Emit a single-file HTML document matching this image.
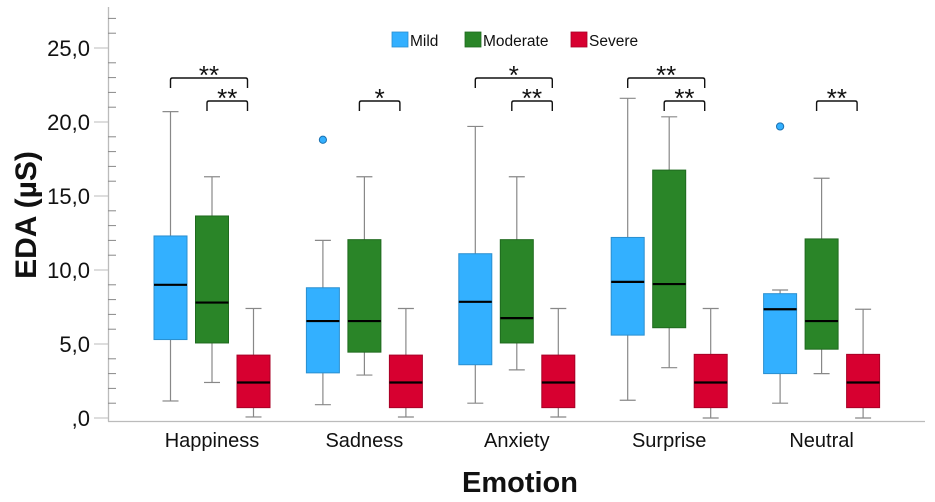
<!DOCTYPE html>
<html><head><meta charset="utf-8">
<style>
html,body{margin:0;padding:0;background:#fff;}
svg{display:block;font-family:"Liberation Sans",Arial,sans-serif;}
</style></head>
<body>
<svg id="chart" width="935" height="502" viewBox="0 0 935 502" xmlns="http://www.w3.org/2000/svg">
<g id="axes"></g>
<g id="boxes"></g>
<g id="sig"></g>
<g>
  <rect x="392" y="32" width="16" height="15" fill="#33b0ff" stroke="#2a8fd0" stroke-width="0.8"/>
  <text x="410" y="46" font-size="15.5" fill="#111">Mild</text>
  <rect x="465" y="32" width="16" height="15" fill="#2a8528" stroke="#1f6a1e" stroke-width="0.8"/>
  <text x="483" y="46" font-size="15.5" fill="#111">Moderate</text>
  <rect x="571" y="32" width="16" height="15" fill="#d70030" stroke="#a80026" stroke-width="0.8"/>
  <text x="589" y="46" font-size="15.5" fill="#111">Severe</text>
</g>
<text transform="translate(36,215) rotate(-90)" text-anchor="middle" font-size="30" font-weight="bold" fill="#111">EDA (µS)</text>
<text x="520" y="492" text-anchor="middle" font-size="29" font-weight="bold" fill="#111">Emotion</text>
</svg>
<script>
const categories = ["Happiness","Sadness","Anxiety","Surprise","Neutral"];
const seriesNames = ["Mild","Moderate","Severe"];
// each: [whiskerLow, q1, median, q3, whiskerHigh]
const mildStats = [[1.15,5.3,9.0,12.3,20.7],[0.9,3.05,6.55,8.8,12.0],[1.0,3.6,7.85,11.1,19.7],[1.2,5.6,9.2,12.2,21.6],[1.0,3.0,7.35,8.4,8.65]];
const moderateStats = [[2.4,5.07,7.8,13.65,16.3],[2.9,4.45,6.55,12.05,16.3],[3.25,5.07,6.75,12.05,16.3],[3.4,6.1,9.05,16.75,20.35],[3.0,4.65,6.55,12.1,16.2]];
const severeStats = [[0.07,0.7,2.4,4.25,7.4],[0.07,0.7,2.4,4.25,7.4],[0.07,0.7,2.4,4.25,7.4],[0.0,0.7,2.4,4.3,7.4],[0.0,0.7,2.4,4.3,7.35]];
const mildOutliers = [null,18.8,null,null,19.7];
const yTicks = [0,5,10,15,20,25];
const yTickLabels = [",0","5,0","10,0","15,0","20,0","25,0"];
// significance: [categoryIndex, fromSeries, toSeries, label, level]
const sigBrackets = [[0,0,2,"**",0],[0,1,2,"**",1],[1,1,2,"*",1],[2,0,2,"*",0],[2,1,2,"**",1],[3,0,2,"**",0],[3,1,2,"**",1],[4,1,2,"**",1]];

const NS="http://www.w3.org/2000/svg";
const y0=418, pxPerUnit=14.8;
function yScale(v){return y0 - v*pxPerUnit;}
function groupX(i){return 212 + i*152.4;}
function boxX(i,s){return groupX(i) + (s-1)*41.5;}
function mk(tag,attrs,parent){const e=document.createElementNS(NS,tag);for(const k in attrs)e.setAttribute(k,attrs[k]);parent.appendChild(e);return e;}

const axes=document.getElementById('axes');
let a=mk('line',{x1:108.5,y1:7,x2:108.5,y2:421.5,stroke:'#bbb','stroke-width':1.3},axes);


a=mk('line',{x1:108,y1:421.5,x2:925,y2:421.5,stroke:'#bbb','stroke-width':1.3},axes);


for(let v=1; v<=27; v++){
  if(v%5===0) continue;
  const t=mk('line',{x1:108,y1:yScale(v),x2:116,y2:yScale(v),stroke:'#888','stroke-width':1},axes);
  
  
}
yTicks.forEach((v,i)=>{
  const t=mk('line',{x1:94,y1:yScale(v),x2:108,y2:yScale(v),stroke:'#bbb','stroke-width':1},axes);
  
  
  const l=mk('text',{x:90,y:yScale(v)+8,'text-anchor':'end','font-size':22,fill:'#111'},axes);
  l.textContent=yTickLabels[i];
  
  
});
categories.forEach((c,i)=>{
  const l=mk('text',{x:groupX(i),y:447,'text-anchor':'middle','font-size':20,fill:'#111'},axes);
  l.textContent=c;
  
  
});

const boxes=document.getElementById('boxes');
const fills=['#33b0ff','#2a8528','#d70030'];
const strokes=['#2a8fd0','#1f6a1e','#a80026'];
const allStats=[mildStats,moderateStats,severeStats];
categories.forEach((c,i)=>{
  allStats.forEach((st,s)=>{
    const d=st[i], cx=boxX(i,s), w=33;
    const g=mk('g',{},boxes);
    
    
    mk('line',{x1:cx,y1:yScale(d[0]),x2:cx,y2:yScale(d[4]),stroke:'#888','stroke-width':1.2},g);
    mk('line',{x1:cx-8,y1:yScale(d[0]),x2:cx+8,y2:yScale(d[0]),stroke:'#888','stroke-width':1.2},g);
    mk('line',{x1:cx-8,y1:yScale(d[4]),x2:cx+8,y2:yScale(d[4]),stroke:'#888','stroke-width':1.2},g);
    mk('rect',{x:cx-w/2,y:yScale(d[3]),width:w,height:yScale(d[1])-yScale(d[3]),fill:fills[s],stroke:strokes[s],'stroke-width':1},g);
    mk('line',{x1:cx-w/2,y1:yScale(d[2]),x2:cx+w/2,y2:yScale(d[2]),stroke:'#000','stroke-width':2.2},g);
  });
  if(mildOutliers[i]!==null){
    const o=mk('circle',{cx:boxX(i,0),cy:yScale(mildOutliers[i]),r:3.6,fill:'#33b0ff',stroke:'#1a70b0','stroke-width':1},boxes);
    
    
  }
});

const sig=document.getElementById('sig');
sigBrackets.forEach(b=>{
  const [ci,from,to,lab,lev]=b;
  const x1=boxX(ci,from)+(from===0?0:-5), x2=boxX(ci,to)-6;
  const yy=lev===0?78:101;
  const g=mk('g',{},sig);
  
  
  mk('path',{d:`M${x1},${yy+10} L${x1},${yy+2} Q${x1},${yy} ${x1+2},${yy} L${x2-2},${yy} Q${x2},${yy} ${x2},${yy+2} L${x2},${yy+10}`,fill:'none',stroke:'#111','stroke-width':1.4},g);
  const t=mk('text',{x:(x1+x2)/2,y:yy+6,'text-anchor':'middle','font-size':26,fill:'#111'},g);
  t.textContent=lab;
});
</script>
</body></html>
